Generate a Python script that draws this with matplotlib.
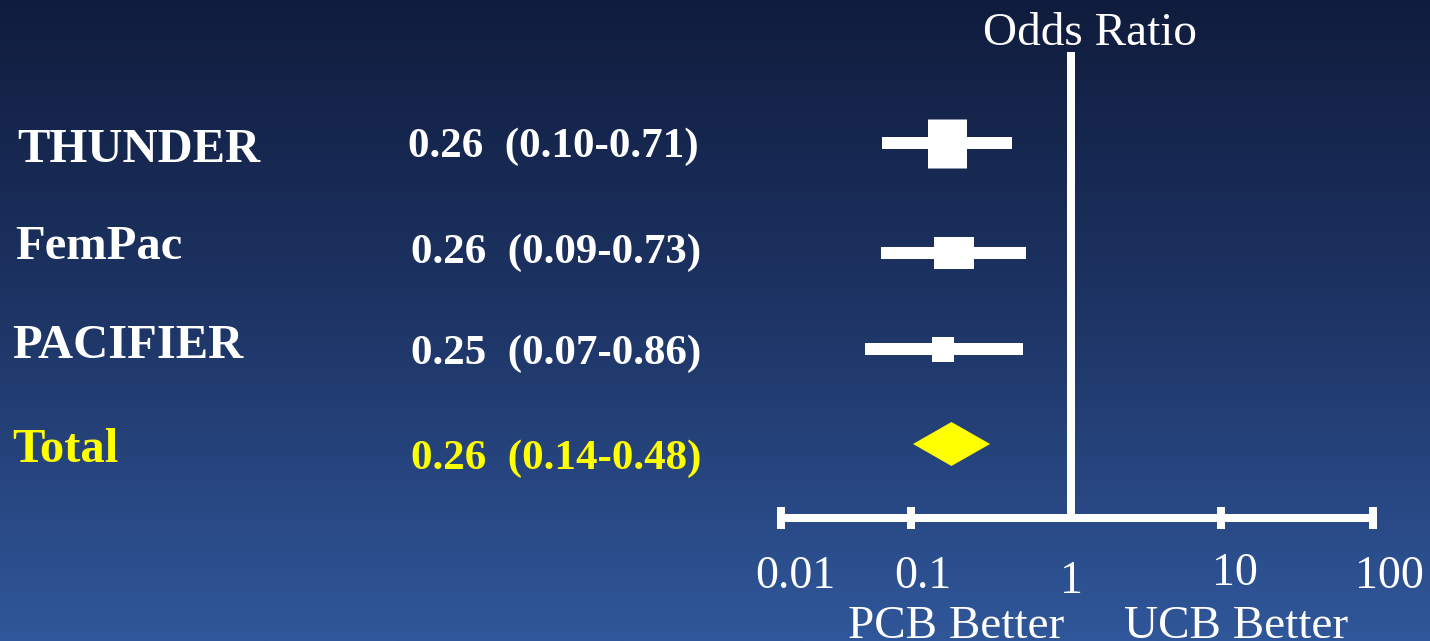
import numpy as np
import matplotlib
matplotlib.use('Agg')
import matplotlib.pyplot as plt
from matplotlib.colors import LinearSegmentedColormap

# Data
studies = ['THUNDER', 'FemPac', 'PACIFIER']
study_text = ['0.26  (0.10-0.71)', '0.26  (0.09-0.73)', '0.25  (0.07-0.86)']
# positions of the drawn marks
study_or = [0.167, 0.186, 0.158]
study_lo = [0.060, 0.059, 0.044]
study_hi = [0.428, 0.523, 0.501]

total_label = 'Total'
total_text = '0.26  (0.14-0.48)'
total_or = 0.179
total_lo = 0.103
total_hi = 0.312

tick_values = [0.01, 0.1, 1, 10, 100]
tick_labels = ['0.01', '0.1', '1', '10', '100']

# ---- layout / style ----
W, H = 1430, 641
FONT = 'Liberation Serif'
WHITE = '#ffffff'
YELLOW = '#ffff00'
PT = 0.72  # points per pixel at dpi 100

row_y = [143, 253, 349]   # vertical pixel position of each study row
total_y = 444
axis_y = 518
top_y = 52
box_w_px = [39, 40, 22]
box_h_px = [49, 32, 25]

# slide axis is hand drawn: decades are not evenly spaced
dec_log = [-2, -1, 0, 1, 2]
dec_px = [0, 130, 290, 440, 592]


def fwd(x):
    x = np.clip(np.asarray(x, dtype=float), 1e-9, None)
    return np.interp(np.log10(x), dec_log, dec_px)


def inv(p):
    return 10 ** np.interp(np.asarray(p, dtype=float), dec_px, dec_log)


def fx(px):
    return px / W


def fy(py):
    return 1 - py / H


fig = plt.figure(figsize=(W / 100, H / 100), dpi=100)

# background gradient
bg = fig.add_axes([0, 0, 1, 1])
cmap = LinearSegmentedColormap.from_list('bg', ['#101c3d', '#1e3566', '#30579a'])
grad = np.linspace(0, 1, 256).reshape(-1, 1)
bg.imshow(grad, cmap=cmap, aspect='auto', extent=[0, 1, 0, 1], origin='upper')
bg.set_axis_off()

# forest plot axes (y runs in pixels from the top)
ax = fig.add_axes([fx(781), 0, fx(592), 1])
ax.set_xscale('function', functions=(fwd, inv))
ax.set_xlim(0.01, 100)
ax.set_ylim(H, 0)
ax.set_axis_off()
ax.patch.set_alpha(0)

# confidence intervals and boxes
for i in range(len(studies)):
    y = row_y[i]
    ax.plot([study_lo[i], study_hi[i]], [y, y], color=WHITE, lw=12 * PT,
            solid_capstyle='butt', clip_on=False)
    h = box_h_px[i]
    ax.plot([study_or[i], study_or[i]], [y - h / 2, y + h / 2], color=WHITE,
            lw=box_w_px[i] * PT, solid_capstyle='butt', clip_on=False)

# pooled diamond
dh = 22
ax.fill([total_lo, total_or, total_hi, total_or],
        [total_y, total_y - dh, total_y, total_y + dh],
        color=YELLOW, lw=0, clip_on=False)

# line of no effect
ax.plot([1, 1], [top_y, axis_y], color=WHITE, lw=8 * PT,
        solid_capstyle='butt', clip_on=False)

# x axis with end caps and ticks
ax.plot([0.01, 100], [axis_y, axis_y], color=WHITE, lw=8 * PT,
        solid_capstyle='butt', clip_on=False)
for v in [0.01, 0.1, 10, 100]:
    ax.plot([v, v], [axis_y - 11, axis_y + 11], color=WHITE,
            lw=8 * PT, solid_capstyle='butt', clip_on=False)

# tick labels (slightly offset as on the slide)
tick_dx = [14, 12, 0, 14, 16]
tick_base = [588, 588, 593, 585, 588]
for v, lab, dx, b in zip(tick_values, tick_labels, tick_dx, tick_base):
    ax.annotate(lab, xy=(v, axis_y), xycoords='data',
                xytext=(dx * PT, -(b - axis_y) * PT), textcoords='offset points',
                ha='center', va='baseline', fontsize=33, family=FONT,
                color=WHITE, annotation_clip=False)

# study names and numbers
label_x = [17, 15, 12]
label_base = [162, 259, 358]
num_x = [408, 411, 411]
num_base = [157, 263, 364]
for i, name in enumerate(studies):
    fig.text(fx(label_x[i]), fy(label_base[i]), name, ha='left', va='baseline',
             fontsize=35, fontweight='bold', family=FONT, color=WHITE)
    fig.text(fx(num_x[i]), fy(num_base[i]), study_text[i], ha='left', va='baseline',
             fontsize=31, fontweight='bold', family=FONT, color=WHITE)

fig.text(fx(12), fy(462), total_label, ha='left', va='baseline',
         fontsize=35, fontweight='bold', family=FONT, color=YELLOW)
fig.text(fx(411), fy(469), total_text, ha='left', va='baseline',
         fontsize=31, fontweight='bold', family=FONT, color=YELLOW)

# titles
fig.text(fx(983), fy(45), 'Odds Ratio', ha='left', va='baseline',
         fontsize=34, family=FONT, color=WHITE)
fig.text(fx(848), fy(638), 'PCB Better', ha='left', va='baseline',
         fontsize=34, family=FONT, color=WHITE)
fig.text(fx(1124), fy(638), 'UCB Better', ha='left', va='baseline',
         fontsize=34, family=FONT, color=WHITE)

fig.savefig('out.png', dpi=100)
